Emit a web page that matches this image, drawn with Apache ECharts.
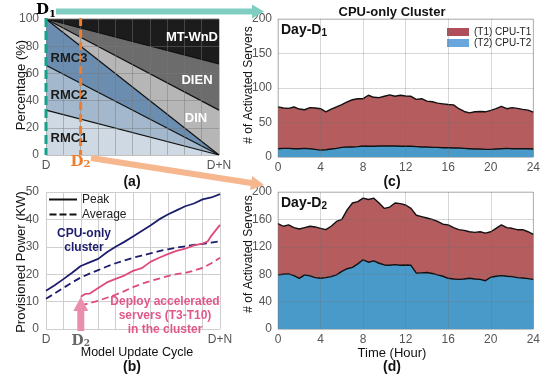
<!DOCTYPE html>
<html><head><meta charset="utf-8">
<script src="https://cdn.jsdelivr.net/npm/echarts@6/dist/echarts.min.js"></script>
<style>html,body{margin:0;padding:0;background:#fff}#c{width:543px;height:376px}</style>
</head><body><div id="c"></div>
<script>
const FONT = '"Liberation Sans", Arial, sans-serif';
const SERIF = '"DejaVu Serif", "Liberation Serif", serif';

// ---- (a) model mix over the update cycle: upper boundary (%) of each band at D and D+N ----
const cycleEnds = [0, 10];
const mixNames = ['RMC1', 'RMC2', 'RMC3', 'DIN', 'DIEN', 'MT-WnD'];
const rmc1Top = [33, 0];
const rmc2Top = [66, 0];
const rmc3Top = [100, 0];
const dinTop = [100, 33];
const dienTop = [100, 67];
const mtwndTop = [100, 100];
const mixColors = ['#cfd9e3', '#a3b8cc', '#6a8db0', '#b6b6b6', '#6c6c6c', '#1c1c1c'];

// ---- (b) provisioned power (KW) ----
const cpuX = [0,0.5,1,1.5,2,2.5,3,3.5,4,4.5,5,5.5,6,6.5,7,7.5,8,8.5,9,9.5,10];
const cpuPeak = [14,16,18.2,20.5,23,24.3,25.6,28,30,31.8,33.8,35.8,37.8,40,41.8,43.3,44.8,45.8,47.3,48,49.2];
const cpuAvg = [11,13,15,17,18.8,20.2,21.5,22.8,24,25,26,26.8,27.6,28.4,29.1,29.7,30.2,30.7,31.1,31.5,32];
const accPeakX = [2,2.25,2.5,3,3.5,4,4.5,5,5.5,6,6.5,7,7.5,8,8.5,9,9.3,9.5,10];
const accPeak = [11.8,12.8,12.9,15,17,18.3,19.5,21.2,22.2,24.5,26,27.3,28.5,29.3,30.5,31.2,32,34,38];
const accAvgX = [2,2.5,3,3.5,4,4.5,5,5.5,6,6.5,7,7.5,8,8.5,9,9.5,10];
const accAvg = [8.5,9.5,10.3,11.4,12.5,13.8,15.3,16.5,17.5,18.4,19.3,20,20.5,21.3,22.3,24,26];
const cycleLabels = {0: 'D', 2: 'D2', 10: 'D+N'};

// ---- (c),(d) activated servers over a day (T2 count and T1+T2 total) ----
const hours = [0,0.5,1,1.5,2,2.5,3,3.5,4,4.5,5,5.5,6,6.5,7,7.5,8,8.5,9,9.5,10,10.5,11,11.5,12,12.5,13,13.5,14,14.5,15,15.5,16,16.5,17,17.5,18,18.5,19,19.5,20,20.5,21,21.5,22,22.5,23,23.5,24];
const dayD1Total = [72.6,71,70.5,72.5,69.5,68.5,71.5,71,70,65.5,69.5,72.5,76,80,83,84.5,84.5,89.5,86.5,86,88,90,88,89.5,88.5,88,83.5,84.5,81,80,78,77,76,75.5,70,66,64,65.5,66,65.5,67.5,70,73.5,70,71.5,70.5,69,68,65];
const dayD1T2 = [12,12.5,12.5,12,12,12.5,12,11,10,10.5,11.5,12.5,14,14.5,14.5,15,16,15.5,15.5,16,16,16,16,15.5,15.5,15.5,15,14.5,14.5,14,14,13.5,13.5,13,13,12.5,12,11.5,11.5,11,11,11.5,12,12.5,12,12,12,12,11.5];
const dayD2Total = [154,150,152,148,146,148,150,149,147,145,150,157,160,174,184,186,191,189,191,184,176,178,184,183,181,176,166,164,162,160,157,153,152,148,145,144,142,141,142,140,142,147,152,148,147,145,145,142,138];
const dayD2T2 = [79,80,80.5,78,74,79,77.5,75,74,75,76.5,79,84,88,90,95,101,97.5,99.5,96,93.5,93,94,93,93.5,93,81.5,82,82.5,81,79,77,74,73,72.5,73,74,73,72.5,70.5,75.5,77,78,77,76.5,75,74.5,73.5,72.5];
const seriesT1 = '(T1) CPU-T1', seriesT2 = '(T2) CPU-T2';

const pairs = (xs, ys) => xs.map((x, i) => [x, ys[i]]);
const chart = echarts.init(document.getElementById('c'), null, {renderer: 'canvas'});

const tickLabel = {color: '#555', fontSize: 12, fontFamily: FONT};
const richA = {
  d: {color: '#ef7d2c', fontFamily: SERIF, fontWeight: 'bold', fontSize: 15, lineHeight: 13},
  s: {color: '#ef7d2c', fontFamily: SERIF, fontWeight: 'bold', fontSize: 10, lineHeight: 10, verticalAlign: 'bottom'},
  n: {color: '#555', fontSize: 12, fontFamily: FONT, lineHeight: 20}
};
const richB = {
  d: {color: '#666', fontFamily: SERIF, fontWeight: 'bold', fontSize: 14, lineHeight: 22},
  s: {color: '#666', fontFamily: SERIF, fontWeight: 'bold', fontSize: 9, lineHeight: 10, padding: [5, 0, 0, 0]},
  n: {color: '#555', fontSize: 12, fontFamily: FONT, lineHeight: 20}
};
const richD1 = {
  d: {color: '#17a08a', fontFamily: SERIF, fontWeight: 'bold', fontSize: 15, lineHeight: 18},
  s: {color: '#17a08a', fontFamily: SERIF, fontWeight: 'bold', fontSize: 10, lineHeight: 10, verticalAlign: 'bottom'}
};
const cycleFmt = v => v === 2 ? '{d|D}{s|2}' : (cycleLabels[v] !== undefined ? '{n|' + cycleLabels[v] + '}' : '');

// bands painted from the top one down, each filled to 0 by the library
const mixTops = [rmc1Top, rmc2Top, rmc3Top, dinTop, dienTop, mtwndTop];
const series = [];
for (let i = mixNames.length - 1; i >= 0; i--) {
  series.push({
    name: mixNames[i], type: 'line', xAxisIndex: 0, yAxisIndex: 0, symbol: 'none',
    data: pairs(cycleEnds, mixTops[i]),
    lineStyle: {color: '#111', width: 1.2},
    areaStyle: {color: mixColors[i], opacity: 1, origin: 'start'},
    itemStyle: {color: mixColors[i]}, silent: true
  });
}
const NAVY = '#1d1d6e', PINK = '#de4a7c';
series.push(
  {name: 'cpuPeak', type: 'line', xAxisIndex: 1, yAxisIndex: 1, symbol: 'none', data: pairs(cpuX, cpuPeak), lineStyle: {color: NAVY, width: 1.8}},
  {name: 'cpuAvg', type: 'line', xAxisIndex: 1, yAxisIndex: 1, symbol: 'none', data: pairs(cpuX, cpuAvg), lineStyle: {color: NAVY, width: 1.8, type: [7, 4]}},
  {name: 'accPeak', type: 'line', xAxisIndex: 1, yAxisIndex: 1, symbol: 'none', data: pairs(accPeakX, accPeak), lineStyle: {color: PINK, width: 1.8}},
  {name: 'accAvg', type: 'line', xAxisIndex: 1, yAxisIndex: 1, symbol: 'none', data: pairs(accAvgX, accAvg), lineStyle: {color: PINK, width: 1.8, type: [7, 4]}},
  {name: 'Peak', type: 'line', xAxisIndex: 1, yAxisIndex: 1, symbol: 'none', data: [], itemStyle: {color: '#111'}, lineStyle: {color: '#111', width: 1.5}},
  {name: 'Average', type: 'line', xAxisIndex: 1, yAxisIndex: 1, symbol: 'none', data: [], itemStyle: {color: '#111'}, lineStyle: {color: '#111', width: 1.5, type: [6, 3]}}
);
const RED = '#ab4549', BLUE = '#4a9ac9';
[[2, dayD1Total, dayD1T2], [3, dayD2Total, dayD2T2]].forEach(([g, tot, t2]) => {
  series.push(
    {name: seriesT1, type: 'line', xAxisIndex: g, yAxisIndex: g, symbol: 'none', z: 2,
     data: pairs(hours, tot), lineStyle: {color: '#111', width: 1.4},
     areaStyle: {color: RED, opacity: 0.88, origin: 'start'}, itemStyle: {color: '#b04f5b'}},
    {name: seriesT2, type: 'line', xAxisIndex: g, yAxisIndex: g, symbol: 'none', z: 3,
     data: pairs(hours, t2), lineStyle: {color: '#111', width: 1.4},
     areaStyle: {color: BLUE, opacity: 1, origin: 'start'}, itemStyle: {color: '#67a7dd'}}
  );
});

const gridLine = {lineStyle: {color: '#cfcfcf', width: 1}};
const overLine = {lineStyle: {color: 'rgba(110,110,110,0.28)', width: 1}};
const option = {
  animation: false,
  backgroundColor: '#fff',
  textStyle: {fontFamily: FONT},
  grid: [
    {left: 46, top: 19, width: 173, height: 136},
    {left: 46, top: 192, width: 174, height: 137},
    {left: 278, top: 19, width: 257, height: 138, show: true, borderColor: '#c6c6c6', borderWidth: 1},
    {left: 278, top: 192, width: 256, height: 137, show: true, borderColor: '#c6c6c6', borderWidth: 1}
  ],
  xAxis: [
    {gridIndex: 0, type: 'value', min: 0, max: 10, interval: 1, z: 5,
     axisLine: {show: false}, axisTick: {show: false},
     splitLine: {lineStyle: {color: 'rgba(120,120,120,0.45)', width: 1}},
     axisLabel: {margin: 1, formatter: cycleFmt, rich: richA}},
    {gridIndex: 1, type: 'value', min: 0, max: 10, interval: 1,
     axisLine: {show: false}, axisTick: {show: false}, splitLine: gridLine,
     axisLabel: {margin: 1, formatter: cycleFmt, rich: richB}},
    {gridIndex: 2, type: 'value', min: 0, max: 24, interval: 4, z: 5,
     axisLine: {show: false}, axisTick: {show: false}, splitLine: overLine,
     axisLabel: Object.assign({margin: 5}, tickLabel)},
    {gridIndex: 3, type: 'value', min: 0, max: 24, interval: 4, z: 5,
     axisLine: {show: false}, axisTick: {show: false}, splitLine: overLine,
     axisLabel: Object.assign({margin: 5}, tickLabel)}
  ],
  yAxis: [
    {gridIndex: 0, type: 'value', min: 0, max: 100, interval: 20, z: 5,
     axisLine: {show: false}, axisTick: {show: false},
     splitLine: {lineStyle: {color: 'rgba(120,120,120,0.45)', width: 1}},
     axisLabel: Object.assign({margin: 7}, tickLabel)},
    {gridIndex: 1, type: 'value', min: 0, max: 50, interval: 10,
     axisLine: {show: false}, axisTick: {show: false}, splitLine: gridLine,
     axisLabel: Object.assign({margin: 7}, tickLabel)},
    {gridIndex: 2, type: 'value', min: 0, max: 200, interval: 50, z: 5,
     axisLine: {show: false}, axisTick: {show: false}, splitLine: overLine,
     axisLabel: Object.assign({margin: 6}, tickLabel)},
    {gridIndex: 3, type: 'value', min: 0, max: 200, interval: 40, z: 5,
     axisLine: {show: false}, axisTick: {show: false}, splitLine: overLine,
     axisLabel: Object.assign({margin: 6}, tickLabel)}
  ],
  legend: [
    {data: [{name: 'Peak', icon: 'path://M0,0H28V2H0Z'}, {name: 'Average', icon: 'path://M0,0H7V2H0Z M10,0H17V2H10Z M20,0H27V2H20Z'}],
     orient: 'vertical', left: 49, top: 193, itemWidth: 28, itemHeight: 2, itemGap: 2,
     padding: 0, textStyle: {fontSize: 12, color: '#222', fontFamily: FONT, lineHeight: 13}, selectedMode: false},
    {data: [seriesT1, seriesT2], orient: 'vertical', left: 447, top: 27, icon: 'rect', itemWidth: 22, itemHeight: 8, itemGap: 1,
     padding: 0, textStyle: {fontSize: 10, color: '#222', fontFamily: FONT, lineHeight: 10}, selectedMode: false}
  ],
  series: series
};
chart.setOption(option);

// ---- annotations (positions taken from the axes) ----
const P = (g, pt) => chart.convertToPixel({gridIndex: g}, pt);
function arrowPts(x1, y1, x2, y2, bw, hw, hl) {
  const dx = x2 - x1, dy = y2 - y1, L = Math.hypot(dx, dy), ux = dx / L, uy = dy / L, nx = -uy, ny = ux;
  const bx = x2 - ux * hl, by = y2 - uy * hl;
  return [[x1 + nx * bw / 2, y1 + ny * bw / 2], [bx + nx * bw / 2, by + ny * bw / 2], [bx + nx * hw / 2, by + ny * hw / 2],
          [x2, y2], [bx - nx * hw / 2, by - ny * hw / 2], [bx - nx * bw / 2, by - ny * bw / 2], [x1 - nx * bw / 2, y1 - ny * bw / 2]];
}
const a0 = P(0, [0, 0]), a100 = P(0, [0, 100]), aD2 = P(0, [2, 0]), aTop2 = P(0, [2, 100]);
const b0 = P(1, [2, 0]);
const cLeft = P(2, [0, 200]);
const dLeft = P(3, [0, 200]);
const txt = (x, y, text, size, opts) => Object.assign({type: 'text', x: x, y: y, z: 100,
  style: Object.assign({text: text, fontSize: size, fontFamily: FONT, fill: '#111', align: 'center', verticalAlign: 'middle'}, opts || {})});
const vtxt = (x, y, text, size) => Object.assign(txt(x, y, text, size), {rotation: Math.PI / 2});
const dayRich = {a: {fontSize: 14, fontWeight: 'bold', fontFamily: FONT, fill: '#111', lineHeight: 17},
                 b: {fontSize: 10, fontWeight: 'bold', fontFamily: FONT, fill: '#111', lineHeight: 10, verticalAlign: 'bottom'}};

const graphic = [
  {type: 'line', z: 100, shape: {x1: a0[0], y1: a100[1] - 1, x2: a0[0], y2: a0[1]}, style: {stroke: '#17a08a', lineWidth: 3, lineDash: [9, 4]}},
  {type: 'line', z: 100, shape: {x1: aD2[0], y1: aTop2[1] - 1, x2: aD2[0], y2: aD2[1]}, style: {stroke: '#ef7d2c', lineWidth: 3, lineDash: [8, 4]}},
  {type: 'polygon', z: 90, shape: {points: arrowPts(56, 11.5, 264, 11.5, 6, 14, 12)}, style: {fill: '#80cdc1'}},
  {type: 'polygon', z: 90, shape: {points: arrowPts(91, 158, 264, 185, 6, 14, 13)}, style: {fill: '#f6b68e'}},
  {type: 'polygon', z: 90, shape: {points: arrowPts(b0[0], b0[1] + 2, b0[0], b0[1] - 32, 7, 15, 14)}, style: {fill: '#e98fab'}},
  {type: 'text', z: 100, x: a0[0], y: 10, style: {text: '{d|D}{s|1}', align: 'center', verticalAlign: 'middle', rich: richD1}},
  txt(69, 58, 'RMC3', 13, {fontWeight: 'bold', fill: '#1a1a1a'}),
  txt(69, 95, 'RMC2', 13, {fontWeight: 'bold', fill: '#1a1a1a'}),
  txt(69, 138, 'RMC1', 13, {fontWeight: 'bold', fill: '#1a1a1a'}),
  txt(196, 118, 'DIN', 13, {fontWeight: 'bold', fill: '#fff'}),
  txt(197, 80, 'DIEN', 13, {fontWeight: 'bold', fill: '#fff'}),
  txt(192, 37, 'MT-WnD', 13, {fontWeight: 'bold', fill: '#fff'}),
  vtxt(21, 85, 'Percentage (%)', 13),
  vtxt(21, 262, 'Provisioned Power (KW)', 13),
  vtxt(249, 85, '# of Activated Servers', 12),
  vtxt(249, 254, '# of Activated Servers', 12),
  txt(137, 353, 'Model Update Cycle', 12.5),
  txt(392, 353, 'Time (Hour)', 13),
  txt(132, 182, '(a)', 14, {fontWeight: 'bold'}),
  txt(132, 367, '(b)', 14, {fontWeight: 'bold'}),
  txt(392, 182, '(c)', 14, {fontWeight: 'bold'}),
  txt(392, 367, '(d)', 14, {fontWeight: 'bold'}),
  txt(392, 12, 'CPU-only Cluster', 13, {fontWeight: 'bold'}),
  {type: 'text', z: 100, x: cLeft[0] + 3, y: cLeft[1] + 11, style: {text: '{a|Day-D}{b|1}', align: 'left', verticalAlign: 'middle', rich: dayRich}},
  {type: 'text', z: 100, x: dLeft[0] + 3, y: dLeft[1] + 11, style: {text: '{a|Day-D}{b|2}', align: 'left', verticalAlign: 'middle', rich: dayRich}},
  txt(84, 234, 'CPU-only', 12, {fontWeight: 'bold', fill: NAVY}),
  txt(84, 248, 'cluster', 12, {fontWeight: 'bold', fill: NAVY}),
  txt(165, 302, 'Deploy accelerated', 12, {fontWeight: 'bold', fill: '#e0588a'}),
  txt(165, 316, 'servers (T3-T10)', 12, {fontWeight: 'bold', fill: '#e0588a'}),
  txt(165, 330, 'in the cluster', 12, {fontWeight: 'bold', fill: '#e0588a'})
];
chart.setOption({graphic: graphic});
</script>
</body></html>
